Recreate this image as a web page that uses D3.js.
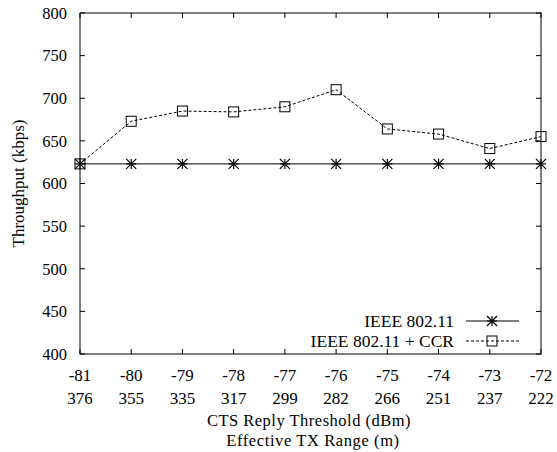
<!DOCTYPE html>
<html><head><meta charset="utf-8">
<script src="https://cdn.jsdelivr.net/npm/d3@7"></script>
<style>body{margin:0;background:#fff}</style>
</head><body>
<svg id="c" width="557" height="452"></svg>
<script>
const thresholds = [-81,-80,-79,-78,-77,-76,-75,-74,-73,-72];
const ranges = [376,355,335,317,299,282,266,251,237,222];
const ieee = [623,623,623,623,623,623,623,623,623,623];
const ccr = [623,673,685,684,690,710,664,658,641,655];
const yTicks = [400,450,500,550,600,650,700,750,800];
const seriesNames = ["IEEE 802.11","IEEE 802.11 + CCR"];

const svg = d3.select("#c");
const L=80,R=541,T=13,B=354;
const x = d3.scaleLinear().domain([-81,-72]).range([L,R]);
const y = d3.scaleLinear().domain([400,800]).range([B,T]);
const fs = 17;
const FONT = "Liberation Serif";
function txt(xp,yp,anchor,s,size){
  return svg.append("text").attr("x",xp).attr("y",yp).attr("dy","0.35em")
    .attr("text-anchor",anchor).style("font-family",FONT).style("font-size",(size||fs)+"px")
    .attr("fill","#000").text(s);
}

svg.append("rect").attr("x",L).attr("y",T).attr("width",R-L).attr("height",B-T)
  .attr("fill","none").attr("stroke","#000").attr("stroke-width",1);

const tl=5;
const g = svg.append("g").attr("stroke","#000").attr("stroke-width",1);
yTicks.forEach(v=>{
  g.append("line").attr("x1",L).attr("x2",L+tl).attr("y1",y(v)).attr("y2",y(v));
  g.append("line").attr("x1",R).attr("x2",R-tl).attr("y1",y(v)).attr("y2",y(v));
  txt(L-13,y(v),"end",v,16.5);
});
thresholds.forEach((v,i)=>{
  g.append("line").attr("x1",x(v)).attr("x2",x(v)).attr("y1",B).attr("y2",B-tl);
  g.append("line").attr("x1",x(v)).attr("x2",x(v)).attr("y1",T).attr("y2",T+tl);
  txt(x(v),375,"middle",v);
  txt(x(v),398,"middle",ranges[i]);
});

txt(309,420.5,"middle","CTS Reply Threshold (dBm)",16.5).style("letter-spacing","0.5px");
txt(313,440,"middle","Effective TX Range (m)",16.5).style("letter-spacing","0.6px");
svg.append("text").attr("transform","translate(18,"+((T+B)/2)+") rotate(-90)")
  .attr("dy","0.35em").attr("text-anchor","middle").style("font-family",FONT)
  .style("font-size","17px").text("Throughput (kbps)");

const line = d3.line().x((d,i)=>x(thresholds[i])).y(d=>y(d));

function star(sel,cx,cy){
  const r=5;
  const p = sel.append("g").attr("stroke","#000").attr("stroke-width",1.2);
  p.append("line").attr("x1",cx-r).attr("x2",cx+r).attr("y1",cy).attr("y2",cy);
  p.append("line").attr("x1",cx).attr("x2",cx).attr("y1",cy-r).attr("y2",cy+r);
  p.append("line").attr("x1",cx-r).attr("x2",cx+r).attr("y1",cy-r).attr("y2",cy+r);
  p.append("line").attr("x1",cx-r).attr("x2",cx+r).attr("y1",cy+r).attr("y2",cy-r);
}
function square(sel,cx,cy){
  const s=10;
  sel.append("rect").attr("x",cx-s/2).attr("y",cy-s/2).attr("width",s).attr("height",s)
    .attr("fill","none").attr("stroke","#000").attr("stroke-width",1);
}

svg.append("path").datum(ieee).attr("d",line).attr("fill","none").attr("stroke","#000").attr("stroke-width",1);
ieee.forEach((v,i)=>star(svg,x(thresholds[i]),y(v)));
svg.append("path").datum(ccr).attr("d",line).attr("fill","none").attr("stroke","#000")
  .attr("stroke-width",1).attr("stroke-dasharray","3,2");
ccr.forEach((v,i)=>square(svg,x(thresholds[i]),y(v)));

const ly=[321,341];
txt(454,ly[0],"end",seriesNames[0],17.5);
svg.append("line").attr("x1",466).attr("x2",519).attr("y1",ly[0]).attr("y2",ly[0]).attr("stroke","#000");
star(svg,492,ly[0]);
txt(454,ly[1],"end",seriesNames[1],17.5);
svg.append("line").attr("x1",466).attr("x2",519).attr("y1",ly[1]).attr("y2",ly[1]).attr("stroke","#000").attr("stroke-dasharray","3,2");
square(svg,492,ly[1]);
</script>
</body></html>
